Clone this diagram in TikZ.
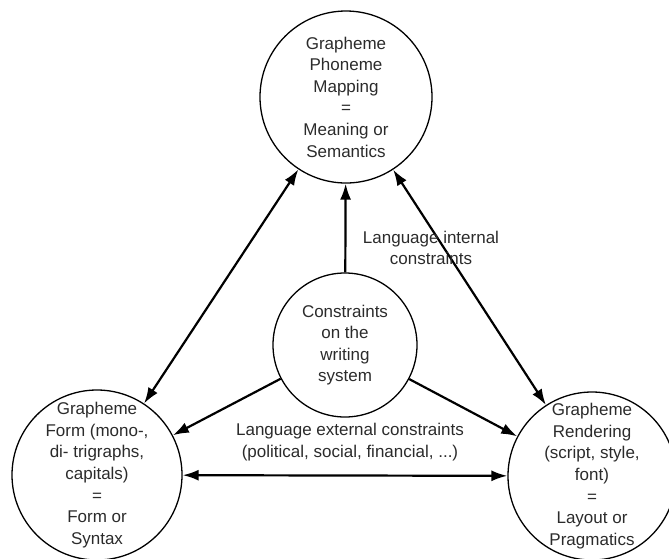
\documentclass[tikz,border=0pt]{standalone}
\usepackage{fontspec}
\setmainfont{Liberation Sans}
\usetikzlibrary{arrows.meta}
\definecolor{inkgray}{HTML}{2B2B2B}

\begin{document}
\begin{tikzpicture}[x=1pt,y=-1pt,
  blob/.style={circle,draw,line width=1.3pt,inner sep=0pt},
  txt/.style={align=center,text=inkgray,font=\fontsize{17}{21.6}\selectfont},
  arr/.style={-{Latex[length=16pt,width=11pt]},line width=2.2pt},
  dbl/.style={{Latex[length=16pt,width=11pt]}-{Latex[length=16pt,width=11pt]},line width=2.2pt}]

  \useasboundingbox (0,0) rectangle (669,558);

  \node[blob,minimum size=172pt] (sem) at (346,97) {};
  \node[blob,minimum size=144pt] (core) at (345,345) {};
  \node[blob,minimum size=170pt] (form) at (97,475) {};
  \node[blob,minimum size=168pt] (rend) at (592,476) {};

  \node[txt] (semtxt) at (sem) {Grapheme\\Phoneme\\Mapping\\=\\Meaning or\\Semantics};
  \node[txt] (coretxt) at (core) {Constraints\\on the\\writing\\system};
  \node[txt] (formtxt) at (form) {Grapheme\\Form (mono-,\\di- trigraphs,\\capitals)\\=\\Form or\\Syntax};
  \node[txt] (rendtxt) at (rend) {Grapheme\\Rendering\\(script, style,\\font)\\=\\Layout or\\Pragmatics};

  \draw[arr] (core) -- (sem);
  \draw[arr] (core) -- (form);
  \draw[arr] (core) -- (rend);
  \draw[dbl] (form) -- (sem);
  \draw[dbl] (rend) -- (sem);
  \draw[dbl] (form) -- (rend);

  \node[txt] (intern) at (431,248) {Language internal\\constraints};
  \node[txt] (extern) at (350,442) {Language external constraints\\(political, social, financial, ...)};
\end{tikzpicture}
\end{document}
